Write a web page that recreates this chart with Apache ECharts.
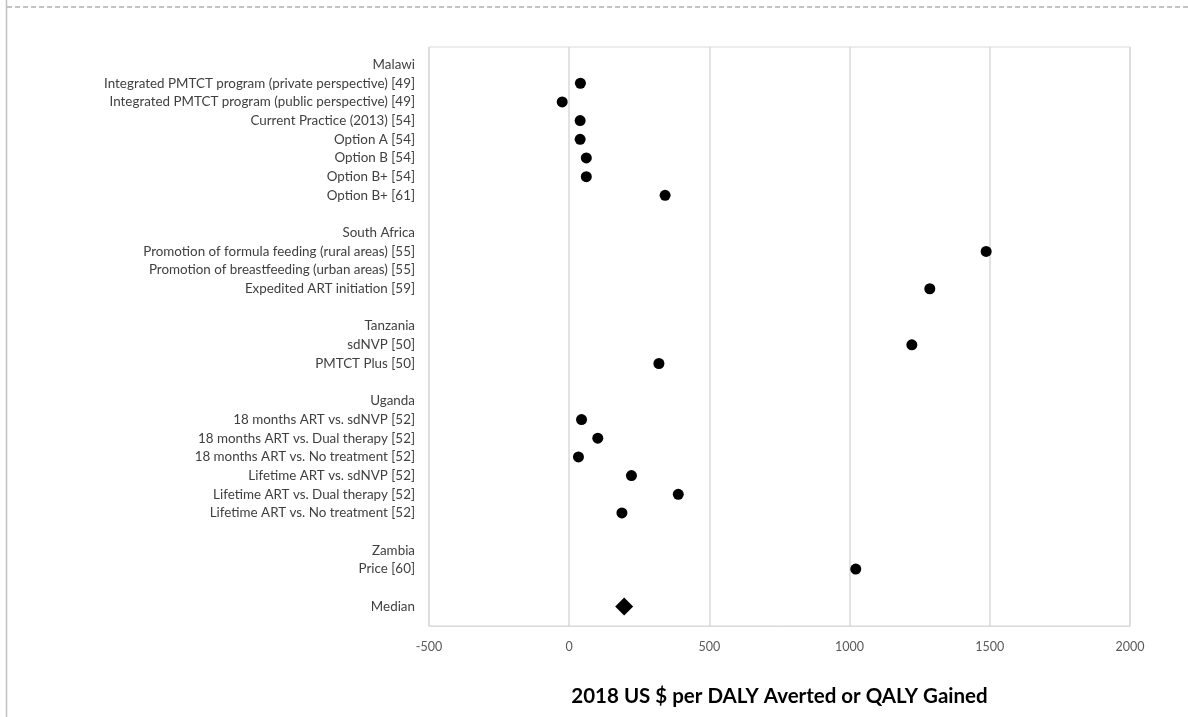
<!DOCTYPE html>
<html>
<head>
<meta charset="utf-8">
<script src="https://cdn.jsdelivr.net/npm/echarts@6/dist/echarts.min.js"></script>
<style>html,body{margin:0;padding:0;background:#fff}#c{width:1188px;height:717px}</style>
</head>
<body>
<div id="c"></div>
<script>
const categories = [
  "Malawi",
  "Integrated PMTCT program (private perspective) [49]",
  "Integrated PMTCT program (public perspective) [49]",
  "Current Practice (2013) [54]",
  "Option A [54]",
  "Option B [54]",
  "Option B+ [54]",
  "Option B+ [61]",
  "",
  "South Africa",
  "Promotion of formula feeding (rural areas) [55]",
  "Promotion of breastfeeding (urban areas) [55]",
  "Expedited ART initiation [59]",
  "",
  "Tanzania",
  "sdNVP [50]",
  "PMTCT Plus [50]",
  "",
  "Uganda",
  "18 months ART vs. sdNVP [52]",
  "18 months ART vs. Dual therapy [52]",
  "18 months ART vs. No treatment [52]",
  "Lifetime ART vs. sdNVP [52]",
  "Lifetime ART vs. Dual therapy [52]",
  "Lifetime ART vs. No treatment [52]",
  "",
  "Zambia",
  "Price [60]",
  "",
  "Median"
];
const studyValues = [
  null, 40, -25, 39, 39, 61, 61, 342,
  null,
  null, 1487, null, 1286,
  null,
  null, 1222, 320,
  null,
  null, 44, 102, 33, 222, 389, 188,
  null,
  null, 1022,
  null,
  null
];
const medianValues = [
  null, null, null, null, null, null, null, null, null, null, null, null, null, null, null,
  null, null, null, null, null, null, null, null, null, null, null, null, null, null, 196
];
const xTicks = [-500, 0, 500, 1000, 1500, 2000];

const studyData = [];
studyValues.forEach((v, i) => { if (v !== null) studyData.push([v, i]); });
const medianData = [];
medianValues.forEach((v, i) => { if (v !== null) medianData.push([v, i]); });

const chart = echarts.init(document.getElementById('c'));
chart.setOption({
  animation: false,
  backgroundColor: '#fff',
  graphic: [
    { type: 'line', shape: { x1: 7, y1: 7, x2: 1188, y2: 7 }, style: { stroke: '#b0b0b0', lineWidth: 1.5, lineDash: [5, 3] } },
    { type: 'line', shape: { x1: 6.5, y1: 0, x2: 6.5, y2: 717 }, style: { stroke: '#c0c0c0', lineWidth: 1.5 } }
  ],
  grid: { left: 429, right: 58, top: 47, bottom: 91, show: true, borderColor: '#d9d9d9', borderWidth: 1 },
  xAxis: {
    type: 'value', min: -500, max: 2000, interval: 500,
    name: '2018 US $ per DALY Averted or QALY Gained',
    nameLocation: 'middle', nameGap: 60,
    nameTextStyle: { fontFamily: 'Lato', fontWeight: 'bold', fontSize: 20.5, color: '#000' },
    axisLine: { show: true, onZero: false, lineStyle: { color: '#d9d9d9' } },
    axisTick: { show: false },
    axisLabel: { fontFamily: 'Lato', fontSize: 12.5, color: '#595959', margin: 14,
      formatter: v => xTicks.includes(v) ? String(v) : '' },
    splitLine: { show: true, lineStyle: { color: '#d9d9d9', width: 1.5 } }
  },
  yAxis: {
    type: 'value', inverse: true, min: -0.94, max: 30.05,
    axisLine: { show: false },
    axisTick: { show: false },
    splitLine: { show: false },
    axisLabel: {
      customValues: categories.map((c, i) => i),
      formatter: v => categories[Math.round(v)] || '',
      fontFamily: 'Lato', fontSize: 13.4, color: '#404040', margin: 14
    }
  },
  series: [
    { type: 'scatter', data: studyData, symbol: 'circle', symbolSize: 11, itemStyle: { color: '#000', opacity: 1 } },
    { type: 'scatter', data: medianData, symbol: 'diamond', symbolSize: 18, itemStyle: { color: '#000', opacity: 1 } }
  ]
});
</script>
</body>
</html>
